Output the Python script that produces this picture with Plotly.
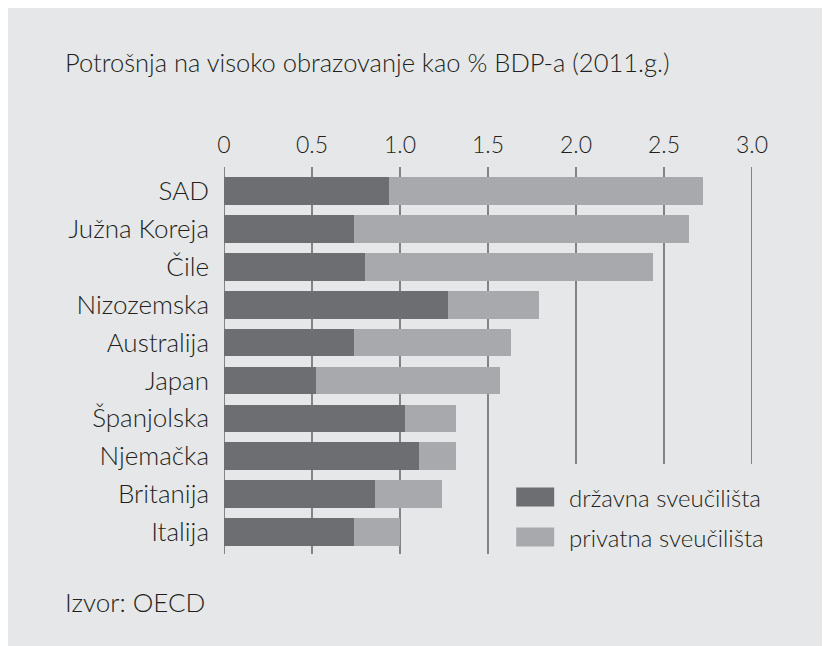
import plotly.graph_objects as go

# podaci očitani s grafikona
countries = ['SAD', 'Južna Koreja', 'Čile', 'Nizozemska', 'Australija',
             'Japan', 'Španjolska', 'Njemačka', 'Britanija', 'Italija']
state_unis = [0.94, 0.74, 0.80, 1.27, 0.74, 0.52, 1.03, 1.11, 0.86, 0.74]
private_unis = [1.78, 1.90, 1.64, 0.52, 0.89, 1.05, 0.29, 0.21, 0.38, 0.26]
series_names = ['državna sveučilišta', 'privatna sveučilišta']
tick_vals = [0, 0.5, 1.0, 1.5, 2.0, 2.5, 3.0]
tick_text = ['0', '0.5', '1.0', '1.5', '2.0', '2.5', '3.0']

BG = '#e6e7e8'
DARK = '#6d6e71'
LIGHT = '#a7a9ac'
TXT = '#231f20'
FONT = 'Lato'
WEIGHT = 300

# stranica ima 8px margine, slika se pomakne za 8px
OFF = 8
W, H = 830, 646
L, R, T, B = 215.5, 86, 159, 100
pw, ph = W - L - R, H - T - B


def px_x(x):
    return (x - OFF - L) / pw


def px_y(y):
    return (H - B - (y - OFF)) / ph


fig = go.Figure()
fig.add_trace(go.Bar(y=countries, x=state_unis, orientation='h', name=series_names[0],
                     marker=dict(color=DARK, line=dict(width=0)), width=0.73))
fig.add_trace(go.Bar(y=countries, x=private_unis, orientation='h', name=series_names[1],
                     marker=dict(color=LIGHT, line=dict(width=0)), width=0.73))

shapes = []
# linije mreže - desne su kraće zbog legende
for v in tick_vals:
    y_end = 0 if v < 2 else px_y(464)
    shapes.append(dict(type='line', xref='x', yref='paper', x0=v, x1=v, y0=y_end, y1=1,
                       line=dict(color='#58595b', width=1.4), layer='below'))

# legenda
leg_y = [497, 537]
leg_col = [DARK, LIGHT]
for i in range(2):
    shapes.append(dict(type='rect', xref='paper', yref='paper', x0=px_x(516), x1=px_x(554),
                       y0=px_y(leg_y[i] + 9.5), y1=px_y(leg_y[i] - 9.5),
                       fillcolor=leg_col[i], line=dict(width=0)))
    fig.add_annotation(x=px_x(567), y=px_y(leg_y[i]), xref='paper', yref='paper',
                       text=series_names[i], showarrow=False, xanchor='left', yanchor='middle',
                       font=dict(size=24, color=TXT, family=FONT, weight=WEIGHT))

fig.add_annotation(x=px_x(62), y=px_y(62), xref='paper', yref='paper',
                   text='Potrošnja na visoko obrazovanje kao % BDP-a (2011.g.)', showarrow=False,
                   xanchor='left', yanchor='middle', font=dict(size=25.5, color=TXT, family=FONT, weight=WEIGHT))
fig.add_annotation(x=px_x(62), y=px_y(602), xref='paper', yref='paper',
                   text='Izvor: OECD', showarrow=False,
                   xanchor='left', yanchor='middle', font=dict(size=26, color=TXT, family=FONT, weight=WEIGHT))

fig.update_layout(
    width=W, height=H, barmode='stack', showlegend=False,
    margin=dict(l=L, r=R, t=T, b=B, pad=0),
    paper_bgcolor=BG, plot_bgcolor=BG,
    font=dict(family=FONT, color=TXT, size=24, weight=WEIGHT),
    shapes=shapes,
)
fig.update_xaxes(side='top', range=[0, 3.0], tickvals=tick_vals, ticktext=tick_text,
                 showgrid=False, zeroline=False, showline=False, ticks='',
                 ticklabelstandoff=8, tickfont=dict(size=23, color=TXT))
fig.update_yaxes(categoryorder='array', categoryarray=countries, range=[9.58, -0.633],
                 showgrid=False, zeroline=False, showline=False, ticks='',
                 ticklabelstandoff=14, tickfont=dict(size=26, color=TXT))

fig.write_html('out.html')
